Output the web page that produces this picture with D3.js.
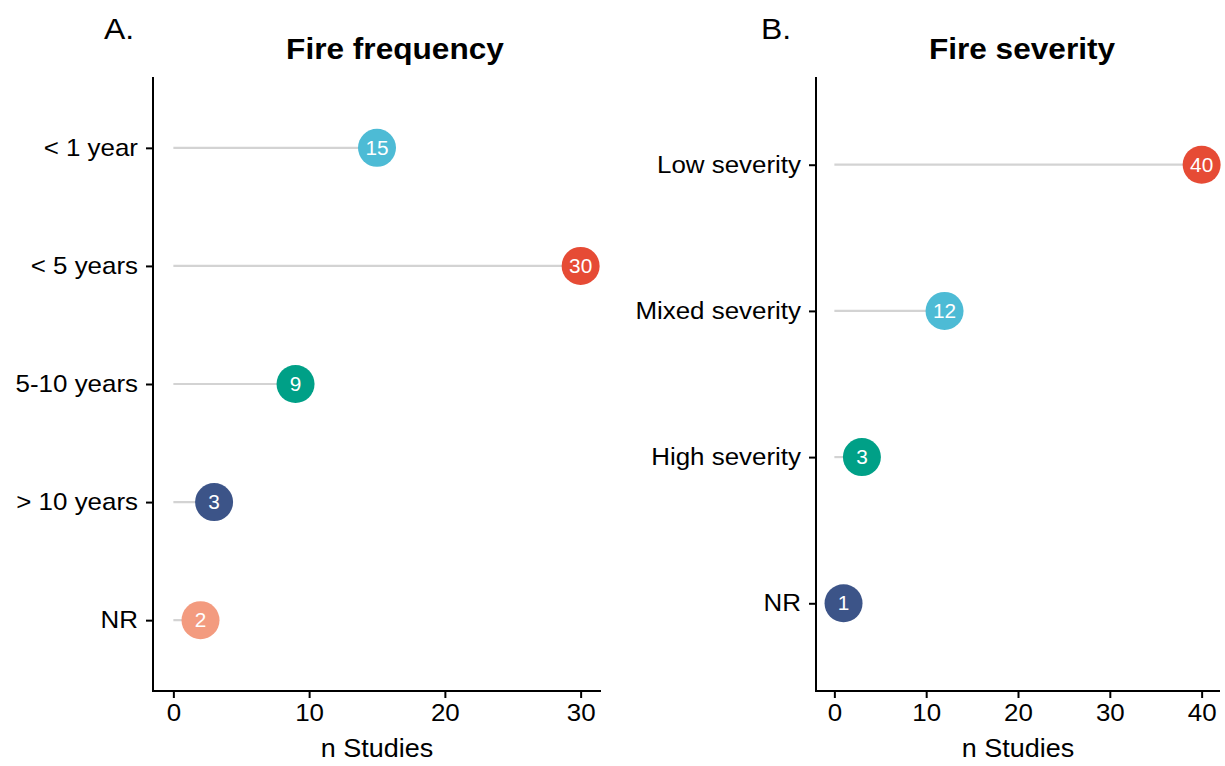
<!DOCTYPE html>
<html>
<head>
<meta charset="utf-8">
<script src="https://cdn.jsdelivr.net/npm/d3@7"></script>
<style>
  html, body { margin: 0; padding: 0; background: #fff; }
  svg text { font-family: "Liberation Sans", Arial, Helvetica, sans-serif; }
</style>
</head>
<body>
<svg id="chart" width="1225" height="766"></svg>
<script>
// ---- data ----
const freqCategories = ["< 1 year", "< 5 years", "5-10 years", "> 10 years", "NR"];
const freqValues = [15, 30, 9, 3, 2];
const freqColors = ["#4DBBD5", "#E64B35", "#00A087", "#3C5488", "#F39B7F"];
const freqTicks = [0, 10, 20, 30];

const sevCategories = ["Low severity", "Mixed severity", "High severity", "NR"];
const sevValues = [40, 12, 3, 1];
const sevColors = ["#E64B35", "#4DBBD5", "#00A087", "#3C5488"];
const sevTicks = [0, 10, 20, 30, 40];

const SX = 1.08; // horizontal stretch of the reference's text

const svg = d3.select("#chart");

// horizontally stretch text around its anchor point
function stretch(sel, sx) {
  sel.each(function () {
    const t = d3.select(this);
    const x = +t.attr("x") || 0;
    const y = +t.attr("y") || 0;
    t.attr("x", 0).attr("y", 0)
     .attr("transform", `translate(${x},${y}) scale(${sx},1)`);
  });
}

function panel(opts) {
  const g = svg.append("g");
  const x = d3.scaleLinear().domain(opts.xDomain).range([opts.left, opts.right]);
  const y = d3.scalePoint().domain(opts.categories).range([opts.top, opts.bottom]).padding(0.6);

  const data = opts.categories.map((c, i) => ({ c, v: opts.values[i], col: opts.colors[i] }));

  // segments
  g.selectAll("line.seg").data(data).enter().append("line")
    .attr("class", "seg")
    .attr("x1", x(0)).attr("x2", d => x(d.v))
    .attr("y1", d => y(d.c)).attr("y2", d => y(d.c))
    .attr("stroke", "#d3d3d3").attr("stroke-width", 2.2);

  // points
  g.selectAll("circle.pt").data(data).enter().append("circle")
    .attr("class", "pt")
    .attr("cx", d => x(d.v)).attr("cy", d => y(d.c))
    .attr("r", 19).attr("fill", d => d.col);

  const labs = g.selectAll("text.lab").data(data).enter().append("text")
    .attr("class", "lab")
    .attr("x", d => x(d.v)).attr("y", d => y(d.c))
    .attr("dy", "0.36em")
    .attr("text-anchor", "middle")
    .attr("fill", "#fff")
    .attr("font-size", 20)
    .text(d => d.v);
  stretch(labs, 1.04);

  // axes
  const yAxis = d3.axisLeft(y).tickSize(7).tickPadding(8).tickSizeOuter(0);
  const ya = g.append("g").attr("transform", `translate(${opts.left},0)`).call(yAxis);
  ya.select(".domain").attr("stroke-width", 2).attr("d", `M0,${opts.top}V${opts.bottom + 1}`);
  ya.selectAll(".tick line").attr("stroke-width", 2);
  const yt = ya.selectAll(".tick text").attr("font-size", 24).attr("fill", "#000")
    .style("font-family", '"Liberation Sans", Arial, sans-serif');
  stretch(yt, SX);

  const xAxis = d3.axisBottom(x).tickValues(opts.ticks).tickSize(7).tickPadding(6).tickSizeOuter(0);
  const xa = g.append("g").attr("transform", `translate(0,${opts.bottom})`).call(xAxis);
  xa.select(".domain").attr("stroke-width", 2).attr("d", `M${opts.left - 1},0H${opts.right}`);
  xa.selectAll(".tick line").attr("stroke-width", 2);
  xa.selectAll(".tick text").attr("font-size", 24).attr("fill", "#000")
    .style("font-family", '"Liberation Sans", Arial, sans-serif')
    .each(function () {
      d3.select(this).attr("transform", `scale(${SX},1)`);
    });

  // axis title
  const xt = g.append("text")
    .attr("x", (opts.left + opts.right) / 2 + opts.xTitleShift)
    .attr("y", 757)
    .attr("text-anchor", "middle")
    .attr("font-size", 25)
    .text("n Studies");
  stretch(xt, SX);

  // panel title
  const tt = g.append("text")
    .attr("x", opts.titleX)
    .attr("y", 59)
    .attr("text-anchor", "middle")
    .attr("font-size", 29)
    .attr("font-weight", "bold")
    .text(opts.title);
  stretch(tt, 1.09);

  // tag
  const tg = g.append("text")
    .attr("x", opts.tagX)
    .attr("y", 39)
    .attr("font-size", 29)
    .text(opts.tag);
  stretch(tg, 1.1);
}

panel({
  categories: freqCategories, values: freqValues, colors: freqColors, ticks: freqTicks,
  xDomain: [-1.5, 31.5], left: 153, right: 601, top: 77, bottom: 691,
  title: "Fire frequency", titleX: 395, tag: "A.", tagX: 104, xTitleShift: 0
});

panel({
  categories: sevCategories, values: sevValues, colors: sevColors, ticks: sevTicks,
  xDomain: [-2, 42], left: 816, right: 1220, top: 77, bottom: 691,
  title: "Fire severity", titleX: 1022, tag: "B.", tagX: 761, xTitleShift: 0
});
</script>
</body>
</html>
